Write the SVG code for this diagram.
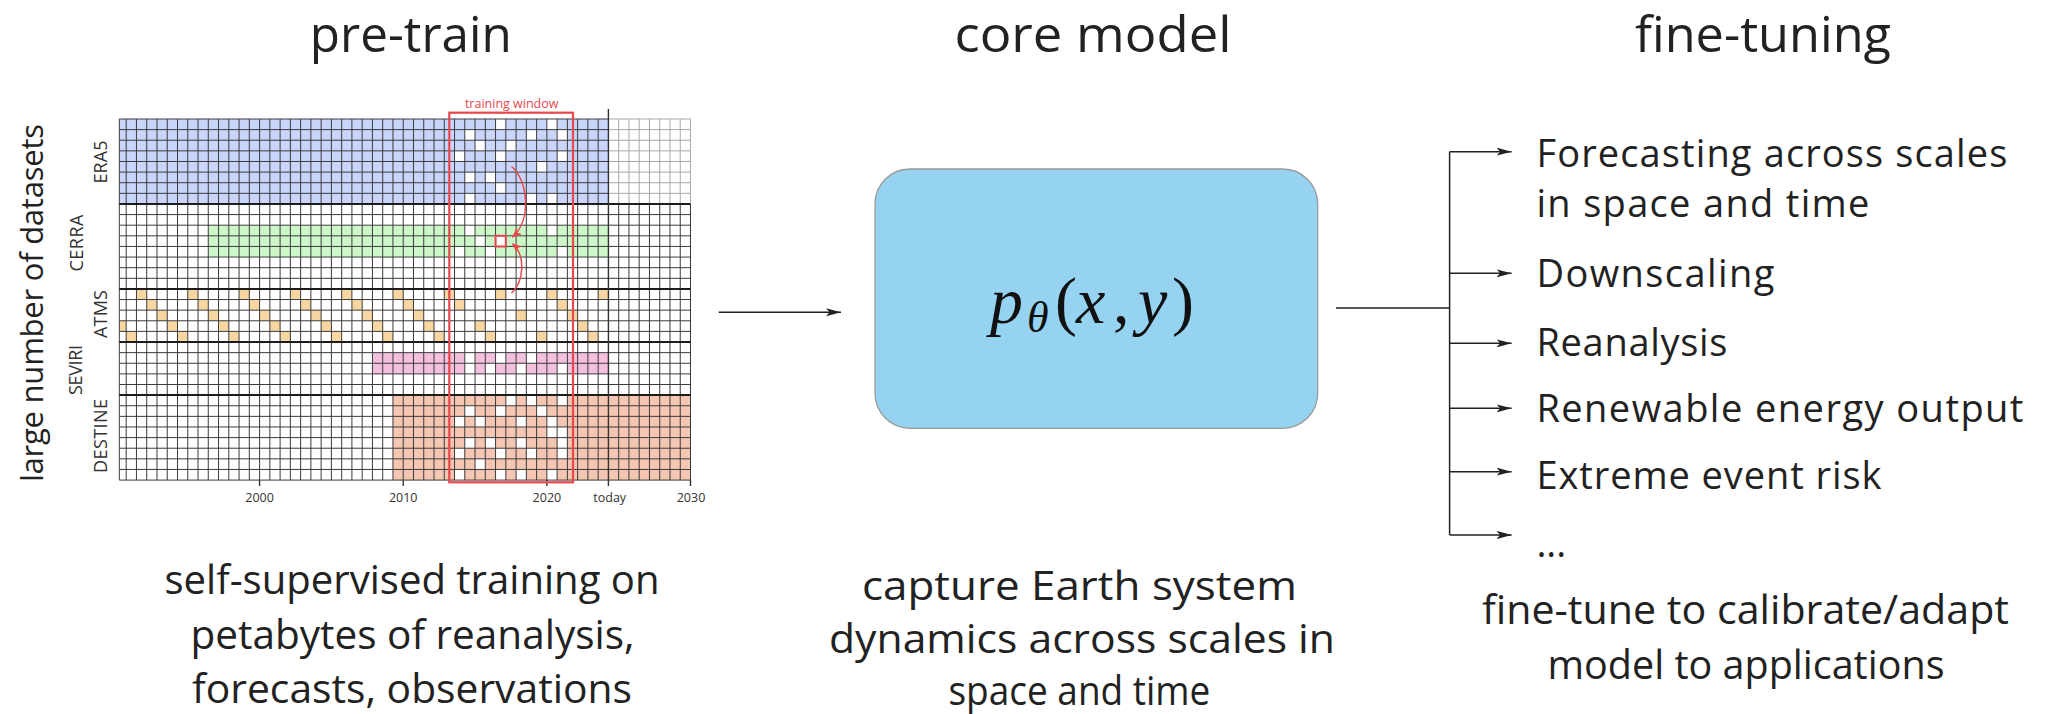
<svg xmlns="http://www.w3.org/2000/svg" xmlns:xlink="http://www.w3.org/1999/xlink" width="2048" height="714" viewBox="0 0 2048 714">
<style>
text{font-family:"Open Sans","Liberation Sans",sans-serif;fill:#222}
.title{font-size:50px}
.cap{font-size:39.5px}
.item{font-size:38px}
.band{font-size:18px;fill:#333}
.yr{font-size:12.5px;fill:#333}
.gl{fill:none;stroke:#3c3c3c;stroke-width:1}
.gll{fill:none;stroke:#a9a9a9;stroke-width:1}
.glt{fill:none;stroke:#1c1c1c;stroke-width:2}
.conn{fill:none;stroke:#222;stroke-width:1.5}
.red{fill:none;stroke:#e8474c}
.math{font-family:"Liberation Serif","Times New Roman",serif;fill:#111;font-size:66px}
</style>
<defs>
<rect id="w" width="1" height="1" fill="#fff"/>
<rect id="o" width="1" height="1" fill="#f7d6a1"/>
<marker id="ah" markerWidth="15" markerHeight="9" refX="15" refY="4.5" orient="auto" markerUnits="userSpaceOnUse"><path d="M0,0.5 L15,4.5 L0,8.5 L3.5,4.5 z" fill="#222"/></marker>
<marker id="ahr" markerWidth="10" markerHeight="8" refX="9" refY="4" orient="auto" markerUnits="userSpaceOnUse"><path d="M0,0 L10,4 L0,8 L2.5,4 z" fill="#e8474c"/></marker>
</defs>
<rect width="2048" height="714" fill="#fff"/>

<g id="pretrain">
<text class="title" x="410.8" y="52" text-anchor="middle" textLength="202" lengthAdjust="spacingAndGlyphs">pre-train</text>
<text transform="translate(43.3 303) rotate(-90)" text-anchor="middle" font-size="31" textLength="358">large number of datasets</text>
<text class="band" transform="translate(107 162) rotate(-90)" text-anchor="middle" textLength="43">ERA5</text>
<text class="band" transform="translate(83 243) rotate(-90)" text-anchor="middle" textLength="57">CERRA</text>
<text class="band" transform="translate(107 314) rotate(-90)" text-anchor="middle" textLength="48">ATMS</text>
<text class="band" transform="translate(82 370) rotate(-90)" text-anchor="middle" textLength="50">SEVIRI</text>
<text class="band" transform="translate(107 436) rotate(-90)" text-anchor="middle" textLength="74">DESTINE</text>

<g id="grid" transform="translate(126.2 119) scale(10.26 10.62)">
<rect x="-0.6725" y="0" width="47.6725" height="8" fill="#c9d5fb"/>
<rect x="8" y="10" width="39" height="3" fill="#cdf7c9"/>
<rect x="24" y="22" width="23" height="2" fill="#f3c1dd"/>
<rect x="26" y="26" width="29" height="8" fill="#f5c6b2"/>
<use href="#w" x="36" y="0"/><use href="#w" x="41" y="0"/>
<use href="#w" x="33" y="1"/><use href="#w" x="39" y="1"/><use href="#w" x="42" y="1"/>
<use href="#w" x="34" y="2"/><use href="#w" x="37" y="2"/>
<use href="#w" x="32" y="3"/><use href="#w" x="36" y="3"/><use href="#w" x="42" y="3"/>
<use href="#w" x="40" y="4"/>
<use href="#w" x="33" y="5"/><use href="#w" x="35" y="5"/>
<use href="#w" x="36" y="6"/>
<use href="#w" x="33" y="7"/><use href="#w" x="39" y="7"/><use href="#w" x="41" y="7"/>
<use href="#w" x="33" y="10"/><use href="#w" x="41" y="10"/>
<use href="#w" x="34" y="11"/><use href="#w" x="36" y="11"/>
<use href="#w" x="32" y="12"/><use href="#w" x="35" y="12"/><use href="#w" x="42" y="12"/>
<use href="#o" x="1" y="16"/><use href="#o" x="6" y="16"/><use href="#o" x="11" y="16"/><use href="#o" x="16" y="16"/><use href="#o" x="21" y="16"/><use href="#o" x="26" y="16"/><use href="#o" x="31" y="16"/><use href="#o" x="36" y="16"/><use href="#o" x="41" y="16"/><use href="#o" x="46" y="16"/>
<use href="#o" x="2" y="17"/><use href="#o" x="7" y="17"/><use href="#o" x="12" y="17"/><use href="#o" x="17" y="17"/><use href="#o" x="22" y="17"/><use href="#o" x="27" y="17"/><use href="#o" x="32" y="17"/><use href="#o" x="42" y="17"/>
<use href="#o" x="3" y="18"/><use href="#o" x="8" y="18"/><use href="#o" x="13" y="18"/><use href="#o" x="18" y="18"/><use href="#o" x="23" y="18"/><use href="#o" x="28" y="18"/><use href="#o" x="38" y="18"/><use href="#o" x="43" y="18"/>
<rect x="-0.6725" y="19" width="0.6725" height="1" fill="#f7d6a1"/><use href="#o" x="4" y="19"/><use href="#o" x="9" y="19"/><use href="#o" x="14" y="19"/><use href="#o" x="19" y="19"/><use href="#o" x="24" y="19"/><use href="#o" x="29" y="19"/><use href="#o" x="34" y="19"/><use href="#o" x="44" y="19"/>
<use href="#o" x="0" y="20"/><use href="#o" x="5" y="20"/><use href="#o" x="10" y="20"/><use href="#o" x="15" y="20"/><use href="#o" x="20" y="20"/><use href="#o" x="25" y="20"/><use href="#o" x="30" y="20"/><use href="#o" x="35" y="20"/><use href="#o" x="40" y="20"/><use href="#o" x="45" y="20"/>
<use href="#w" x="33" y="22"/><use href="#w" x="36" y="22"/><use href="#w" x="39" y="22"/>
<use href="#w" x="33" y="23"/><use href="#w" x="35" y="23"/><use href="#w" x="38" y="23"/><use href="#w" x="42" y="23"/>
<use href="#w" x="37" y="26"/><use href="#w" x="39" y="26"/><use href="#w" x="42" y="26"/>
<use href="#w" x="33" y="27"/><use href="#w" x="36" y="27"/><use href="#w" x="40" y="27"/>
<use href="#w" x="32" y="28"/><use href="#w" x="34" y="28"/><use href="#w" x="38" y="28"/><use href="#w" x="41" y="28"/>
<use href="#w" x="41" y="29"/><use href="#w" x="42" y="29"/>
<use href="#w" x="33" y="30"/><use href="#w" x="35" y="30"/><use href="#w" x="38" y="30"/><use href="#w" x="42" y="30"/>
<use href="#w" x="32" y="31"/><use href="#w" x="36" y="31"/><use href="#w" x="39" y="31"/><use href="#w" x="42" y="31"/>
<use href="#w" x="34" y="32"/>
<use href="#w" x="32" y="33"/><use href="#w" x="36" y="33"/><use href="#w" x="38" y="33"/><use href="#w" x="41" y="33"/>
<path class="gll" vector-effect="non-scaling-stroke" d="M48 0V8M49 0V8M50 0V8M51 0V8M52 0V8M53 0V8M54 0V8M55 0V8M47 0H55M47 1H55M47 2H55M47 3H55M47 4H55M47 5H55M47 6H55M47 7H55"/>
<path class="gl" vector-effect="non-scaling-stroke" d="M-0.6725 0V34M0 0V34M1 0V34M2 0V34M3 0V34M4 0V34M5 0V34M6 0V34M7 0V34M8 0V34M9 0V34M10 0V34M11 0V34M12 0V34M13 0V34M14 0V34M15 0V34M16 0V34M17 0V34M18 0V34M19 0V34M20 0V34M21 0V34M22 0V34M23 0V34M24 0V34M25 0V34M26 0V34M27 0V34M28 0V34M29 0V34M30 0V34M31 0V34M32 0V34M33 0V34M34 0V34M35 0V34M36 0V34M37 0V34M38 0V34M39 0V34M40 0V34M41 0V34M42 0V34M43 0V34M44 0V34M45 0V34M46 0V34M48 8V34M49 8V34M50 8V34M51 8V34M52 8V34M53 8V34M54 8V34M55 8V34M-0.6725 0H47M-0.6725 1H47M-0.6725 2H47M-0.6725 3H47M-0.6725 4H47M-0.6725 5H47M-0.6725 6H47M-0.6725 7H47M-0.6725 9H55M-0.6725 10H55M-0.6725 11H55M-0.6725 12H55M-0.6725 13H55M-0.6725 14H55M-0.6725 15H55M-0.6725 17H55M-0.6725 18H55M-0.6725 19H55M-0.6725 20H55M-0.6725 22H55M-0.6725 23H55M-0.6725 24H55M-0.6725 25H55M-0.6725 27H55M-0.6725 28H55M-0.6725 29H55M-0.6725 30H55M-0.6725 31H55M-0.6725 32H55M-0.6725 33H55M-0.6725 34H55"/>
<path class="glt" vector-effect="non-scaling-stroke" d="M-0.6725 8H55M-0.6725 16H55M-0.6725 21H55M-0.6725 26H55"/>
<rect class="red" vector-effect="non-scaling-stroke" stroke-width="2" x="36" y="11" width="1" height="1"/>
</g>
<path d="M608.42 109V480M259.58 480v6M403.22 480v6M546.86 480v6M608.42 480v6M690.5 480v6" fill="none" stroke="#333" stroke-width="1.4"/>
<text class="yr" x="259.6" y="501.5" text-anchor="middle">2000</text>
<text class="yr" x="403.2" y="501.5" text-anchor="middle">2010</text>
<text class="yr" x="546.9" y="501.5" text-anchor="middle">2020</text>
<text class="yr" x="609.7" y="501.5" text-anchor="middle">today</text>
<text class="yr" x="691" y="501.5" text-anchor="middle">2030</text>
<rect class="red" stroke-width="2.2" x="449.3" y="112.7" width="123.7" height="369.6"/>
<text x="511.7" y="107.5" text-anchor="middle" font-size="12.5" style="fill:#e8474c">training window</text>
<path class="red" stroke-width="1.5" d="M511.5,166.5 C528,180 532,220 512.5,237" marker-end="url(#ahr)"/>
<path class="red" stroke-width="1.5" d="M511.5,293 C524,282 526,255 512.5,244" marker-end="url(#ahr)"/>
<text class="cap" x="412" y="594" text-anchor="middle" textLength="495" lengthAdjust="spacingAndGlyphs">self-supervised training on</text>
<text class="cap" x="412.5" y="649" text-anchor="middle" textLength="444" lengthAdjust="spacingAndGlyphs">petabytes of reanalysis,</text>
<text class="cap" x="412" y="703" text-anchor="middle" textLength="440" lengthAdjust="spacingAndGlyphs">forecasts, observations</text>
</g>

<g id="core-model">
<text class="title" x="1093" y="52" text-anchor="middle" textLength="277" lengthAdjust="spacingAndGlyphs">core model</text>
<rect x="875" y="169" width="442.7" height="259.3" rx="35" ry="35" fill="#95d3f1" stroke="#9a9a9a" stroke-width="1.3"/>
<text class="math" y="323.3"><tspan x="990" font-style="italic">p</tspan><tspan x="1027" y="332" font-style="italic" font-size="44">θ</tspan><tspan x="1055" y="323.3">(</tspan><tspan x="1076" font-style="italic">x</tspan><tspan x="1113">,</tspan><tspan x="1138" font-style="italic">y</tspan><tspan x="1172">)</tspan></text>
<text class="cap" x="1079.4" y="600" text-anchor="middle" textLength="435" lengthAdjust="spacingAndGlyphs">capture Earth system</text>
<text class="cap" x="1082" y="653" text-anchor="middle" textLength="506" lengthAdjust="spacingAndGlyphs">dynamics across scales in</text>
<text class="cap" x="1079.4" y="705" text-anchor="middle" textLength="262" lengthAdjust="spacingAndGlyphs">space and time</text>
</g>

<g id="finetuning">
<text class="title" x="1763" y="52" text-anchor="middle" textLength="256" lengthAdjust="spacingAndGlyphs">fine-tuning</text>
<text class="item" x="1536.4" y="167" textLength="471">Forecasting across scales</text>
<text class="item" x="1536.4" y="217" textLength="333">in space and time</text>
<text class="item" x="1536.4" y="287" textLength="238">Downscaling</text>
<text class="item" x="1536.4" y="356" textLength="191">Reanalysis</text>
<text class="item" x="1536.4" y="421.5" textLength="487">Renewable energy output</text>
<text class="item" x="1536.4" y="488.5" textLength="345">Extreme event risk</text>
<text class="item" x="1536.4" y="557">...</text>
<text class="cap" x="1745.5" y="624" text-anchor="middle" textLength="527" lengthAdjust="spacingAndGlyphs">fine-tune to calibrate/adapt</text>
<text class="cap" x="1746" y="679" text-anchor="middle">model to applications</text>
</g>

<g id="connectors">
<path class="conn" d="M718.7 312.3H841" marker-end="url(#ah)"/>
<path class="conn" d="M1336 308H1449.6M1449.6 151.7V535"/>
<path class="conn" d="M1449.6 151.7H1511.6" marker-end="url(#ah)"/>
<path class="conn" d="M1449.6 273.3H1511.6" marker-end="url(#ah)"/>
<path class="conn" d="M1449.6 343.3H1511.6" marker-end="url(#ah)"/>
<path class="conn" d="M1449.6 408.3H1511.6" marker-end="url(#ah)"/>
<path class="conn" d="M1449.6 471.7H1511.6" marker-end="url(#ah)"/>
<path class="conn" d="M1449.6 535H1511.6" marker-end="url(#ah)"/>
</g>
</svg>
